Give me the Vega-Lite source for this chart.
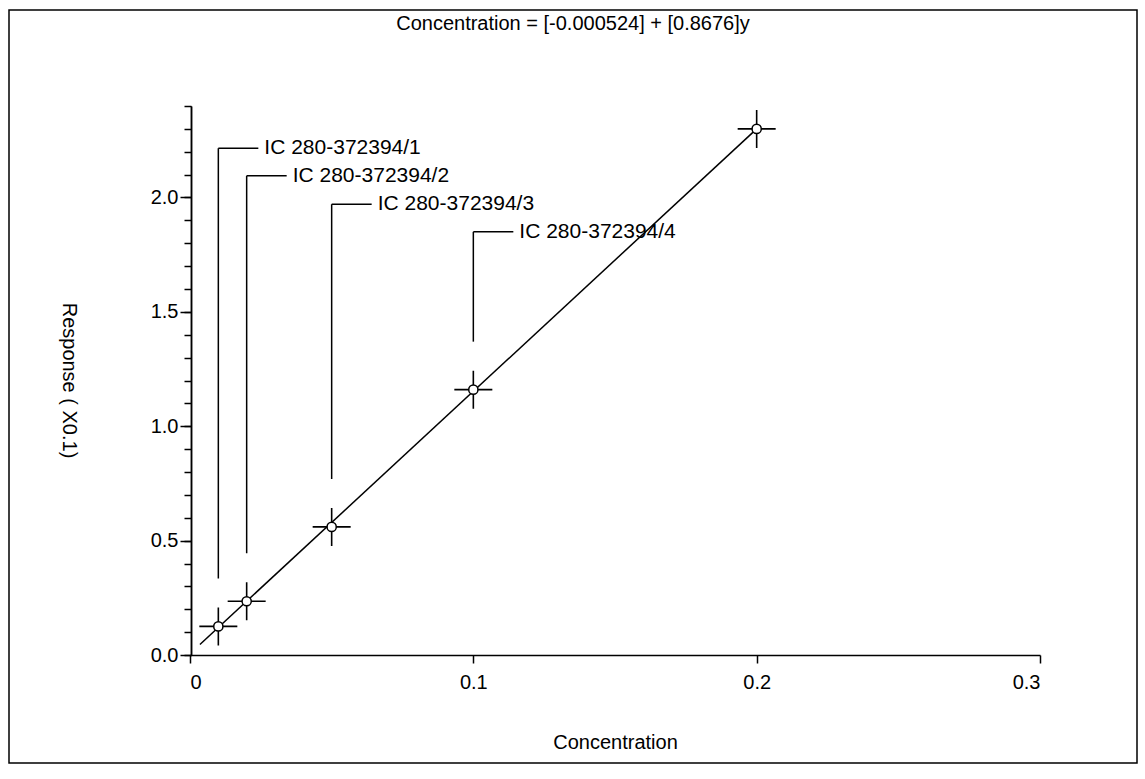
{
  "$schema": "https://vega.github.io/schema/vega-lite/v6.json",
  "autosize": {"type": "none"},
  "width": 1128,
  "height": 753,
  "padding": {"left": 9, "top": 10, "right": 8, "bottom": 16},
  "background": "white",
  "config": {
    "font": "Liberation Sans",
    "view": {"stroke": "black", "strokeWidth": 1.5},
    "axis": {
      "grid": false,
      "domainColor": "black",
      "domainWidth": 1.5,
      "tickColor": "black",
      "tickWidth": 1.5,
      "labelColor": "black",
      "labelFont": "Liberation Sans",
      "labelFontSize": 20,
      "titleColor": "black",
      "titleFont": "Liberation Sans",
      "titleFontSize": 20,
      "titleFontWeight": "normal"
    }
  },
  "title": {
    "text": "Concentration = [-0.000524] + [0.8676]y",
    "font": "Liberation Sans",
    "fontSize": 20,
    "fontWeight": "normal",
    "color": "black",
    "anchor": "middle",
    "frame": "group",
    "offset": -22,
    "baseline": "middle",
    "dy": 12
  },
  "datasets": {
    "points": [
      {"conc": 0.01, "resp": 0.125, "label": "IC 280-372394/1", "labelLevel": 2.215},
      {"conc": 0.02, "resp": 0.235, "label": "IC 280-372394/2", "labelLevel": 2.095},
      {"conc": 0.05, "resp": 0.56, "label": "IC 280-372394/3", "labelLevel": 1.97},
      {"conc": 0.1, "resp": 1.16, "label": "IC 280-372394/4", "labelLevel": 1.85},
      {"conc": 0.2, "resp": 2.3, "label": null, "labelLevel": null}
    ],
    "fit": [
      {"conc": 0.0035, "resp": 0.046},
      {"conc": 0.2, "resp": 2.3}
    ]
  },
  "layer": [
    {
      "data": {"name": "fit"},
      "mark": {"type": "line", "color": "black", "strokeWidth": 1.5},
      "encoding": {
        "x": {
          "field": "conc", "type": "quantitative",
          "scale": {"domain": [0, 0.3], "range": [181, 1031], "nice": false, "zero": false},
          "axis": {
            "orient": "bottom", "offset": -108,
            "values": [0, 0.1, 0.2, 0.3],
            "labelExpr": "datum.value == 0 ? '0' : format(datum.value, '.1f')",
            "tickSize": 8, "labelPadding": 9,
            "title": "Concentration", "titleY": 87, "titleBaseline": "middle"
          }
        },
        "y": {
          "field": "resp", "type": "quantitative",
          "scale": {"domain": [0, 2.4], "range": [645, 96], "nice": false, "zero": false},
          "axis": {
            "orient": "left", "offset": -182,
            "values": [0, 0.5, 1, 1.5, 2],
            "format": ".1f",
            "tickSize": 11, "labelPadding": 2,
            "title": "Response ( X0.1)", "titleAngle": 90,
            "titleX": -123, "titleY": 370, "titleAlign": "center", "titleBaseline": "middle"
          }
        }
      }
    },
    {
      "data": {"name": "points"},
      "transform": [{"filter": "datum.label != null"}],
      "mark": {"type": "rule", "color": "black", "strokeWidth": 1.5, "y2Offset": -48},
      "encoding": {
        "x": {"field": "conc", "type": "quantitative"},
        "y": {"field": "labelLevel", "type": "quantitative", "axis": null},
        "y2": {"field": "resp"}
      }
    },
    {
      "data": {"name": "points"},
      "transform": [{"filter": "datum.label != null"}],
      "mark": {"type": "rule", "color": "black", "strokeWidth": 1.5, "x2Offset": 40},
      "encoding": {
        "x": {"field": "conc", "type": "quantitative"},
        "x2": {"field": "conc"},
        "y": {"field": "labelLevel", "type": "quantitative", "axis": null}
      }
    },
    {
      "data": {"name": "points"},
      "transform": [{"filter": "datum.label != null"}],
      "mark": {"type": "text", "color": "black", "font": "Liberation Sans", "fontSize": 21, "align": "left", "baseline": "middle", "dx": 46},
      "encoding": {
        "x": {"field": "conc", "type": "quantitative"},
        "y": {"field": "labelLevel", "type": "quantitative", "axis": null},
        "text": {"field": "label"}
      }
    },
    {
      "data": {"name": "points"},
      "mark": {"type": "point", "shape": "M-1,0H1M0,-1V1", "size": 1444, "filled": false, "stroke": "black", "strokeWidth": 1.6, "opacity": 1},
      "encoding": {
        "x": {"field": "conc", "type": "quantitative"},
        "y": {
          "field": "resp", "type": "quantitative",
          "axis": {
            "orient": "left", "offset": -182,
            "values": [0, 0.1, 0.2, 0.3, 0.4, 0.5, 0.6, 0.7, 0.8, 0.9, 1, 1.1, 1.2, 1.3, 1.4, 1.5, 1.6, 1.7, 1.8, 1.9, 2, 2.1, 2.2, 2.3, 2.4],
            "labels": false, "tickSize": 7, "title": null
          }
        }
      }
    },
    {
      "data": {"name": "points"},
      "mark": {"type": "point", "shape": "circle", "size": 85, "filled": true, "fill": "white", "stroke": "black", "strokeWidth": 1.5, "opacity": 1},
      "encoding": {
        "x": {"field": "conc", "type": "quantitative"},
        "y": {"field": "resp", "type": "quantitative", "axis": null}
      }
    }
  ],
  "resolve": {"axis": {"y": "independent"}}
}
